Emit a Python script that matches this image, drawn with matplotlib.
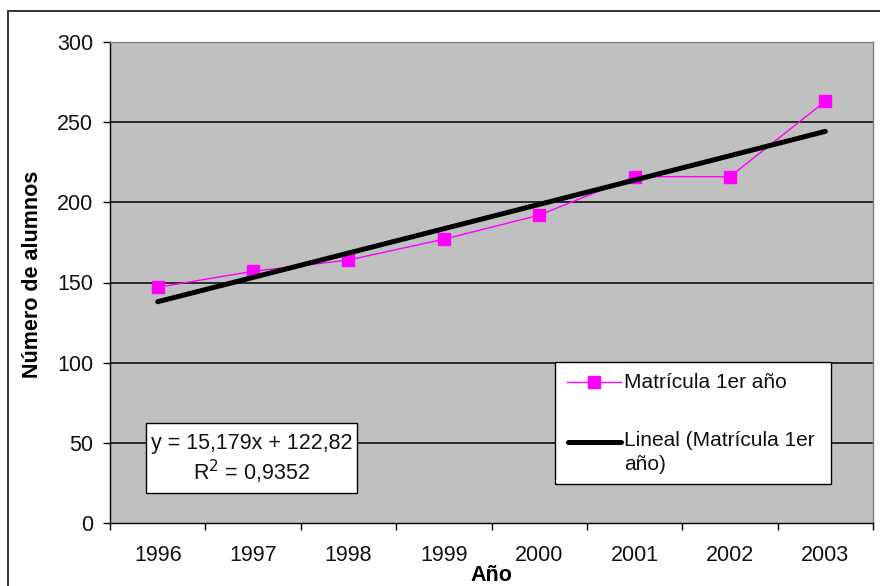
import matplotlib
matplotlib.use("Agg")
import matplotlib.pyplot as plt
import numpy as np
from matplotlib.lines import Line2D
from matplotlib.patches import Rectangle

plt.rcParams['font.family'] = ['Liberation Sans', 'DejaVu Sans']

years = ['1996', '1997', '1998', '1999', '2000', '2001', '2002', '2003']
matricula = [147, 157, 164, 177, 192, 216, 216, 263]
slope = 15.179
intercept = 122.82
r2_text = '0,9352'
y_ticks = [0, 50, 100, 150, 200, 250, 300]
series_label = 'Matrícula 1er año'
trend_label = 'Lineal (Matrícula 1er\naño)'

W, H = 880, 586
FS = 15.5
LFS = 15
fig = plt.figure(figsize=(W / 100, H / 100), dpi=100)


def fx(px):
    return px / W


def fy(py):
    return 1 - py / H


# outer chart frame
fig.patches.append(Rectangle((fx(8), -0.1), 1.2, fy(11) + 0.1,
                             transform=fig.transFigure, fill=False,
                             edgecolor='#333333', linewidth=1.4))

ax = fig.add_axes([fx(110), fy(523), (873 - 110) / W, (523 - 42) / H])
ax.set_facecolor('#C0C0C0')

x = np.arange(1, len(years) + 1)
ax.set_xlim(0.5, len(years) + 0.5)
ax.set_ylim(0, 300)

# horizontal gridlines
for v in y_ticks[1:-1]:
    ax.axhline(v, color='black', linewidth=1.1, zorder=1)

ax.plot(x, matricula, color='#FF00FF', linewidth=1.0, marker='s',
        markersize=8, markeredgecolor='#FF00FF', markerfacecolor='#FF00FF',
        zorder=3)
trend = slope * x + intercept
ax.plot([x[0], x[-1]], [trend[0], trend[-1]], color='black', linewidth=3.6,
        zorder=4, solid_capstyle='round')

# spines
for s in ['left', 'bottom']:
    ax.spines[s].set_color('black')
    ax.spines[s].set_linewidth(1.0)
for s in ['top', 'right']:
    ax.spines[s].set_color('#808080')
    ax.spines[s].set_linewidth(1.0)

ax.set_yticks(y_ticks)
ax.tick_params(axis='y', direction='out', length=5, width=1, color='black',
               labelsize=FS, pad=7, labelcolor='#111111')
ax.set_xticks(x)
ax.set_xticklabels(years)
ax.set_xticks(np.arange(0.5, len(years) + 1, 1), minor=True)
ax.tick_params(axis='x', which='major', length=0, labelsize=FS, pad=16,
               labelcolor='#111111')
ax.tick_params(axis='x', which='minor', direction='out', length=5, width=1,
               color='black')

ax.set_xlabel('Año', fontsize=FS, fontweight='bold', labelpad=-1)
ax.set_ylabel('Número de alumnos', fontsize=FS, fontweight='bold')
ax.yaxis.set_label_coords(-0.088, 0.516)

# legend box
fig.patches.append(Rectangle((fx(555), fy(484)), fx(831) - fx(555),
                             fy(362) - fy(484), transform=fig.transFigure,
                             facecolor='white', edgecolor='black',
                             linewidth=1.0, zorder=6))
fig.lines.append(Line2D([fx(567), fx(621)], [fy(382), fy(382)],
                        transform=fig.transFigure, color='#FF00FF',
                        linewidth=1.0, zorder=7))
fig.lines.append(Line2D([fx(594)], [fy(382)], transform=fig.transFigure,
                        marker='s', markersize=8, color='#FF00FF',
                        linestyle='none', zorder=7))
fig.lines.append(Line2D([fx(568), fx(621)], [fy(442), fy(442)],
                        transform=fig.transFigure, color='black',
                        linewidth=3.6, solid_capstyle='round', zorder=7))
fig.text(fx(624), fy(382), series_label, fontsize=LFS, ha='left',
         va='center', zorder=8, color='#111111')
for i, line in enumerate(trend_label.split('\n')):
    fig.text(fx(624), fy(441 + 24 * i), line, fontsize=LFS, ha='left',
             va='center', zorder=8, color='#111111')

# trendline equation box
fig.patches.append(Rectangle((fx(146), fy(493)), fx(357) - fx(146),
                             fy(423) - fy(493), transform=fig.transFigure,
                             facecolor='white', edgecolor='black',
                             linewidth=1.0, zorder=6))
eq_text = f'y = {slope:.3f}x + {intercept:.2f}'.replace('.', ',')
fig.text(fx(251.5), fy(443), eq_text, fontsize=FS, ha='center', va='center',
         zorder=8, color='#111111')
fig.text(fx(251.5), fy(472), r'R$^2$ = ' + r2_text, fontsize=FS,
         ha='center', va='center', zorder=8, color='#111111')

fig.savefig('out.png', dpi=100)
